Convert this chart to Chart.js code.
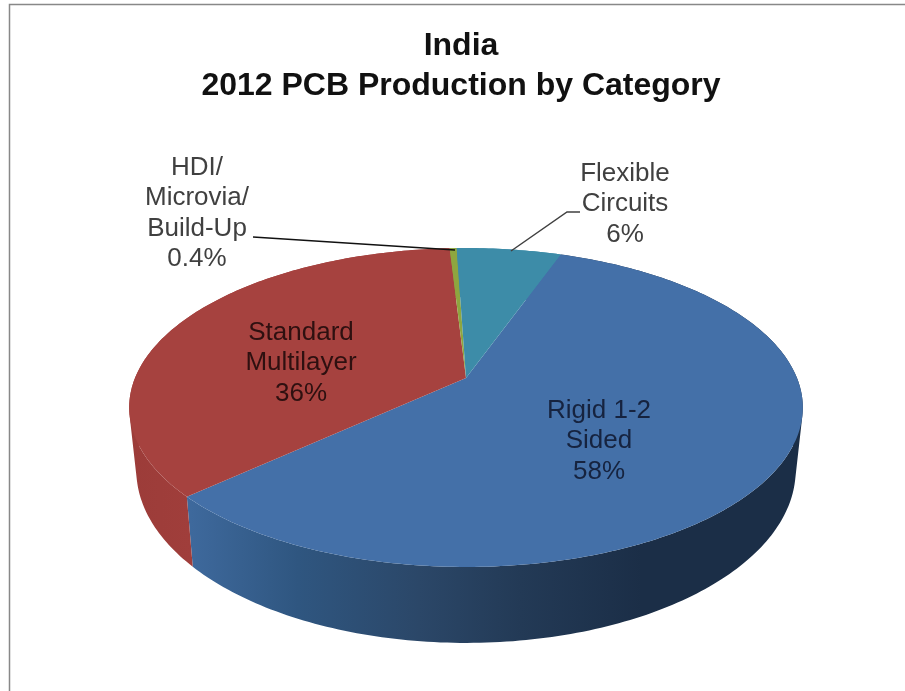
<!DOCTYPE html>
<html>
<head>
<meta charset="utf-8">
<title>India 2012 PCB Production by Category</title>
<style>
    html, body { margin: 0; padding: 0; background: #fff; overflow: hidden; }
    canvas { display: block; }
</style>
<script src="https://cdn.jsdelivr.net/npm/chart.js@4"></script>
</head>
<body>
<canvas id="chart-pie" width="905" height="691"></canvas>
<script>
const categories = ['Rigid 1-2 Sided', 'Standard Multilayer', 'HDI/Microvia/Build-Up', 'Flexible Circuits']
const shares = [58, 36, 0.4, 6]
const sliceColors = ['#4470a8', '#a6423f', '#8ea63f', '#3d8ca8']
const titleLines = ['India', '2012 PCB Production by Category']

// text of the labels, one list of lines per slice
const labelLines = [['Rigid 1-2', 'Sided'], ['Standard', 'Multilayer'], ['HDI/', 'Microvia/', 'Build-Up'], ['Flexible', 'Circuits']]
const labelPlace = [[599, 411], [301, 333], [197, 168], [625, 174]]
const labelColors = ['#16233f', '#2e1010', '#404040', '#404040']

// the pie is tilted, so the centre of the circle is not the centre of the ellipse
const tilt = -0.185
const topFace = { cx: 466, cy: 378, rx: 331, ry: 154 }
const bottomFace = { cx: 466, cy: 438, rx: 324, ry: 167 }

function project(face, angle) {
    let d = 1 + tilt * Math.sin(angle)
    return [face.cx + face.rx * Math.cos(angle) / d, face.cy + face.ry * Math.sin(angle) / d]
}

function edgePoints(face, start, end) {
    let pts = []
    let steps = Math.max(2, Math.ceil((end - start) * 60))
    for (let i = 0; i <= steps; i++) {
        pts.push(project(face, start + (end - start) * i / steps))
    }
    return pts
}

function wallFill(ctx, index) {
    let g = ctx.createLinearGradient(130, 0, 803, 0)
    if (index == 0) {
        g.addColorStop(0.08, '#3f6a9e')
        g.addColorStop(0.25, '#2f5680')
        g.addColorStop(0.43, '#2b4768')
        g.addColorStop(0.58, '#233a56')
        g.addColorStop(0.76, '#1b2e47')
        g.addColorStop(1, '#1b2e47')
    } else if (index == 1) {
        g.addColorStop(0, '#9c3c39')
        g.addColorStop(0.09, '#a03e3b')
    } else {
        g.addColorStop(0, sliceColors[index])
        g.addColorStop(1, sliceColors[index])
    }
    return g
}

// adds one wall quad to the path, always wound the same way so quads never cancel out
function addQuad(ctx, q) {
    let area = 0
    for (let i = 0; i < 4; i++) {
        let a = q[i], b = q[(i + 1) % 4]
        area += a[0] * b[1] - b[0] * a[1]
    }
    if (area < 0) q.reverse()
    ctx.moveTo(q[0][0], q[0][1])
    ctx.lineTo(q[1][0], q[1][1])
    ctx.lineTo(q[2][0], q[2][1])
    ctx.lineTo(q[3][0], q[3][1])
    ctx.closePath()
}

const pie3d = {
    id: 'pie3d',
    beforeDatasetsDraw(chart) {
        const ctx = chart.ctx
        const arcs = chart.getDatasetMeta(0).data

        // chart frame, only left and top are visible in the picture
        ctx.save()
        ctx.strokeStyle = '#888888'
        ctx.lineWidth = 1.5
        ctx.beginPath()
        ctx.moveTo(9.5, 691)
        ctx.lineTo(9.5, 4.5)
        ctx.lineTo(905, 4.5)
        ctx.stroke()

        // side wall first, the top face covers what is at the back
        arcs.forEach((arc, i) => {
            let top = edgePoints(topFace, arc.startAngle, arc.endAngle)
            let bottom = edgePoints(bottomFace, arc.startAngle, arc.endAngle)
            ctx.fillStyle = wallFill(ctx, i)
            ctx.beginPath()
            for (let n = 0; n < top.length - 1; n++) {
                addQuad(ctx, [top[n], top[n + 1], bottom[n + 1], bottom[n]])
            }
            ctx.fill()
        })

        // top face
        arcs.forEach((arc, i) => {
            ctx.fillStyle = sliceColors[i]
            ctx.beginPath()
            ctx.moveTo(topFace.cx, topFace.cy)
            edgePoints(topFace, arc.startAngle, arc.endAngle).forEach(p => ctx.lineTo(p[0], p[1]))
            ctx.closePath()
            ctx.fill()
        })

        // leader lines
        ctx.lineWidth = 1.5
        ctx.strokeStyle = '#111111'
        ctx.beginPath()
        ctx.moveTo(253, 237)
        ctx.lineTo(455, 250)
        ctx.stroke()
        ctx.strokeStyle = '#404040'
        ctx.beginPath()
        ctx.moveTo(580, 212)
        ctx.lineTo(567, 212)
        ctx.lineTo(511, 251)
        ctx.stroke()

        // data labels
        ctx.font = '26px "Liberation Sans"'
        ctx.textAlign = 'center'
        ctx.textBaseline = 'middle'
        labelLines.forEach((lines, i) => {
            ctx.fillStyle = labelColors[i]
            let all = lines.concat(shares[i] + '%')
            all.forEach((line, n) => {
                ctx.fillText(line, labelPlace[i][0], labelPlace[i][1] + n * 30.2)
            })
        })
        ctx.restore()
        return false
    }
}

new Chart(document.getElementById('chart-pie'), {
    type: 'pie',
    data: {
        labels: categories,
        datasets: [{
            data: shares,
            backgroundColor: sliceColors,
            borderWidth: 0
        }]
    },
    options: {
        responsive: false,
        animation: false,
        rotation: 19.6,
        layout: { padding: { top: 26, left: 17 } },
        plugins: {
            legend: { display: false },
            tooltip: { enabled: false },
            title: {
                display: true,
                text: titleLines,
                color: '#111111',
                font: { family: '"Liberation Sans"', size: 32, weight: 'bold', lineHeight: 1.25 },
                padding: 0
            }
        }
    },
    plugins: [pie3d]
})
</script>
</body>
</html>
